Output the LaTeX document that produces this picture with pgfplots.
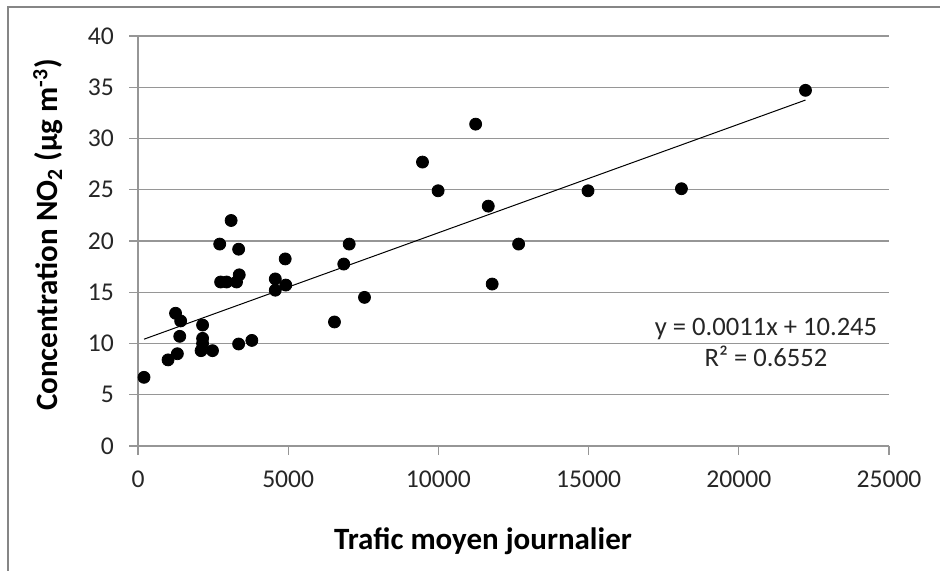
\documentclass[border=0pt]{standalone}
\usepackage{pgfplots}
\pgfplotsset{compat=1.18}
\usepackage{fontspec}
\setmainfont{Carlito}
\definecolor{gridgray}{RGB}{150,150,150}
\definecolor{framegray}{RGB}{134,134,134}
\begin{document}
\begin{tikzpicture}
\useasboundingbox (0,0) rectangle (470pt,285.5pt);
\draw[framegray, line width=1pt] (4pt,0) -- (4pt,282pt) -- (470pt,282pt);
\begin{axis}[
  at={(69pt,62.5pt)}, anchor=south west,
  scale only axis, width=375.5pt, height=205pt,
  xmin=0, xmax=25000, ymin=0, ymax=40,
  xtick={0,5000,10000,15000,20000,25000},
  ytick={0,5,10,15,20,25,30,35,40},
  axis x line*=bottom, axis y line*=left,
  axis line style={gridgray, line width=0.6pt},
  tick style={gridgray, line width=0.6pt},
  major tick length=4.5pt, tick align=outside,
  ymajorgrids, grid style={gridgray, line width=0.6pt},
  scaled x ticks=false,
  /pgf/number format/assume math mode=true,
  /pgf/number format/.cd, 1000 sep={}, /pgfplots/.cd,
  tick label style={font=\fontsize{12.8}{15}\selectfont, text=black!85},
  yticklabel style={xshift=-4pt},
  xticklabel style={yshift=-4.5pt},
  clip=false,
]
\addplot[only marks, mark=*, mark size=3pt, black] coordinates {
(200,6.7) (1000,8.4) (1310,9.0) (1250,12.95) (1420,12.2) (1390,10.7)
(2150,11.8) (2150,10.5) (2150,10.0) (2100,9.3) (2480,9.3)
(2720,19.7) (2750,16.0) (2950,16.0) (3100,22.0) (3350,19.2) (3280,16.0)
(3370,16.7) (3350,9.95) (3790,10.3) (4570,16.3) (4570,15.2) (4900,18.25)
(4920,15.7) (6540,12.1) (6850,17.75) (7030,19.7) (7540,14.5)
(9470,27.7) (9990,24.9) (11240,31.4) (11660,23.4) (11790,15.8)
(12670,19.7) (14980,24.9) (18090,25.1) (22220,34.7)
};
\addplot[black, line width=0.5pt] coordinates {(200,10.42) (22220,33.75)};
\end{axis}
\node[font=\fontsize{13.3}{15.5}\selectfont, align=center, text=black!85] at (383pt,114.5pt) {y = 0.0011x + 10.245\\[0pt]R² = 0.6552};
\node[font=\bfseries\fontsize{15.5}{18}\selectfont] at (241.5pt,15pt) {Trafic moyen journalier};
\node[font=\bfseries\fontsize{15.5}{18}\selectfont, rotate=90] at (24pt,168pt) {Concentration NO\textsubscript{2} (µg m\textsuperscript{-3})};
\end{tikzpicture}
\end{document}
